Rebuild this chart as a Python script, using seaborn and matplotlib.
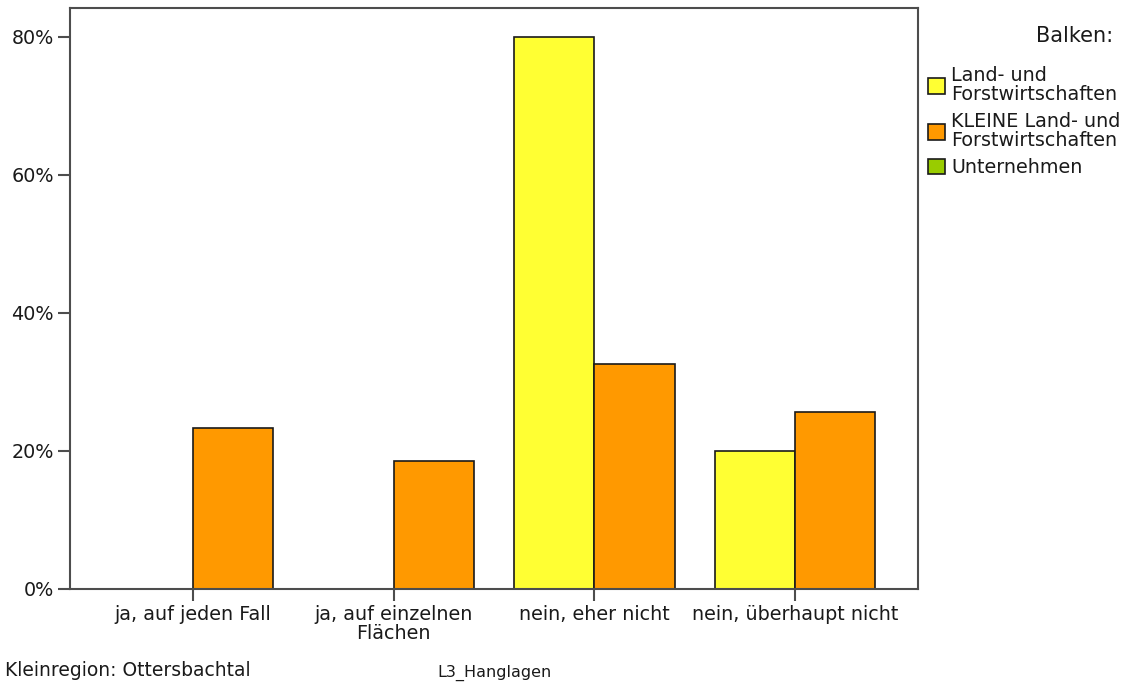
import pandas as pd
import matplotlib.pyplot as plt
import seaborn as sns
from matplotlib.patches import Patch
from matplotlib.ticker import PercentFormatter

# Werte (Prozent)
antworten = ["ja, auf jeden Fall", "ja, auf einzelnen\nFlächen",
             "nein, eher nicht", "nein, überhaupt nicht"]
land_forst = [0, 0, 80, 20]
kleine_land_forst = [23.3, 18.6, 32.6, 25.6]

gruppen = ["Land- und Forstwirtschaften", "KLEINE Land- und Forstwirtschaften"]
legenden_text = ["Land- und\nForstwirtschaften", "KLEINE Land- und\nForstwirtschaften", "Unternehmen"]
farben = ["#FFFF33", "#FF9900", "#99CC00"]
y_ticks = [0, 20, 40, 60, 80]

df = pd.DataFrame({
    "Antwort": antworten * 2,
    "Prozent": land_forst + kleine_land_forst,
    "Gruppe": [gruppen[0]] * 4 + [gruppen[1]] * 4,
})

sns.set_style("white")
plt.rcParams['font.family'] = ['DejaVu Sans']

fig = plt.figure(figsize=(11.33, 6.88), dpi=100)
ax = fig.add_axes([70 / 1133, 1 - 589 / 688, 848 / 1133, 581 / 688])

sns.barplot(data=df, x="Antwort", y="Prozent", hue="Gruppe", hue_order=gruppen,
            palette=farben[:2], saturation=1, width=0.8,
            edgecolor="#1a1a1a", linewidth=1.2, legend=False, ax=ax)

ax.set_xlim(-0.613, 3.613)
ax.set_ylim(0, 84.2)
ax.set_yticks(y_ticks)
ax.yaxis.set_major_formatter(PercentFormatter(xmax=100, decimals=0))
ax.set_xlabel("")
ax.set_ylabel("")

for s in ax.spines.values():
    s.set_color("#4d4d4d")
    s.set_linewidth(1.5)
ax.tick_params(axis="both", direction="out", length=8.5, width=1.5, color="#4d4d4d",
               labelsize=13.8, labelcolor="#1a1a1a", pad=3, left=True, bottom=True)
for t in ax.get_xticklabels():
    t.set_linespacing(1.0)

handles = [Patch(facecolor=c, edgecolor="#1a1a1a", linewidth=1.2) for c in farben]
leg = fig.legend(handles, legenden_text, loc="upper left",
                 bbox_to_anchor=(928 / 1133, 1 - 66 / 688), frameon=False,
                 fontsize=13.8, borderpad=0, borderaxespad=0,
                 handlelength=0.9, handleheight=0.9, handletextpad=0.3,
                 labelspacing=0.42)
for t in leg.get_texts():
    t.set_linespacing(1.0)
    t.set_color("#1a1a1a")

fig.text(1113 / 1133, 1 - 36 / 688, "Balken:", ha="right", va="center", fontsize=15, color="#1a1a1a")
fig.text(5 / 1133, 1 - 670 / 688, "Kleinregion: Ottersbachtal", va="center", fontsize=13.5, color="#1a1a1a")
fig.text(495 / 1133, 1 - 673 / 688, "L3_Hanglagen", ha="center", va="center", fontsize=11.5, color="#1a1a1a")

fig.savefig("out.png", dpi=100)
